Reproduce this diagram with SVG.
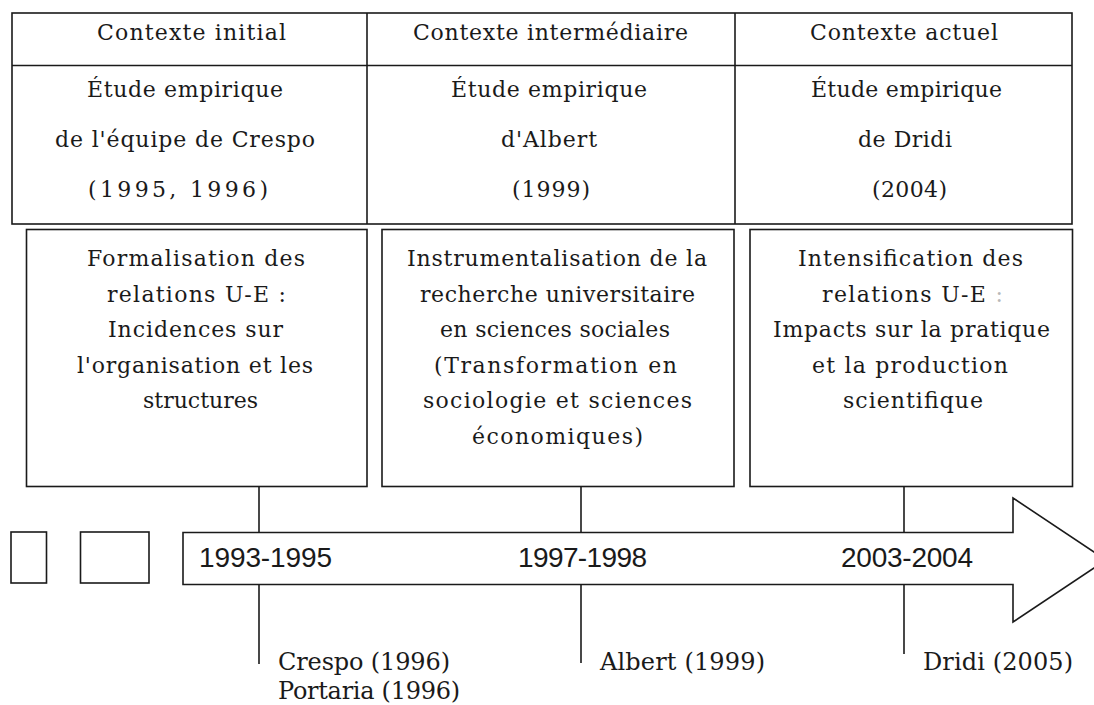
<svg xmlns="http://www.w3.org/2000/svg" width="1094" height="705" viewBox="0 0 1094 705">
<style>
.ln{fill:none;stroke:#1a1a1a;stroke-width:1.6}
.bx{fill:#fff;stroke:#1a1a1a;stroke-width:1.6}
.sf{font-family:"DejaVu Serif","Liberation Serif",serif;font-size:22px;fill:#1a1a1a}
.sb{font-family:"DejaVu Serif","Liberation Serif",serif;font-size:24px;fill:#1a1a1a}
.ss{font-family:"Liberation Sans",Arial,sans-serif;font-size:28px;fill:#1a1a1a}
</style>
<rect width="1094" height="705" fill="#fff"/>
<g id="table">
<rect class="bx" x="12" y="13" width="1060" height="211"/>
<line class="ln" x1="12" y1="65.5" x2="1072" y2="65.5"/>
<line class="ln" x1="367" y1="13" x2="367" y2="224"/>
<line class="ln" x1="735" y1="13" x2="735" y2="224"/>
</g>
<g id="col1-head">
<text class="sf" x="97" y="40" textLength="189" lengthAdjust="spacing">Contexte initial</text>
<text class="sf" x="87" y="97" textLength="196" lengthAdjust="spacing">Étude empirique</text>
<text class="sf" x="55" y="147" textLength="260" lengthAdjust="spacing">de l'équipe de Crespo</text>
<text class="sf" x="88" y="197" textLength="180" lengthAdjust="spacing">(1995, 1996)</text>
</g>
<g id="col2-head">
<text class="sf" x="413" y="40" textLength="275" lengthAdjust="spacing">Contexte intermédiaire</text>
<text class="sf" x="451" y="97" textLength="196" lengthAdjust="spacing">Étude empirique</text>
<text class="sf" x="501" y="147" textLength="96" lengthAdjust="spacing">d'Albert</text>
<text class="sf" x="512" y="197" textLength="78" lengthAdjust="spacing">(1999)</text>
</g>
<g id="col3-head">
<text class="sf" x="810" y="40" textLength="188" lengthAdjust="spacing">Contexte actuel</text>
<text class="sf" x="811" y="97" textLength="191" lengthAdjust="spacing">Étude empirique</text>
<text class="sf" x="858" y="147" textLength="94" lengthAdjust="spacing">de Dridi</text>
<text class="sf" x="872" y="197" textLength="75" lengthAdjust="spacing">(2004)</text>
</g>
<g id="box1">
<rect class="bx" x="26.5" y="229.5" width="340.5" height="257"/>
<text class="sf" x="87" y="266" textLength="218" lengthAdjust="spacing">Formalisation des</text>
<text class="sf" x="107" y="301.5" textLength="179" lengthAdjust="spacing">relations U-E :</text>
<text class="sf" x="108" y="337" textLength="175" lengthAdjust="spacing">Incidences sur</text>
<text class="sf" x="77" y="372.5" textLength="236" lengthAdjust="spacing">l'organisation et les</text>
<text class="sf" x="143" y="408" textLength="115" lengthAdjust="spacing">structures</text>
</g>
<g id="box2">
<rect class="bx" x="382" y="229.5" width="352" height="257"/>
<text class="sf" x="407" y="266" textLength="300" lengthAdjust="spacing">Instrumentalisation de la</text>
<text class="sf" x="420" y="301.5" textLength="275" lengthAdjust="spacing">recherche universitaire</text>
<text class="sf" x="440" y="337" textLength="230" lengthAdjust="spacing">en sciences sociales</text>
<text class="sf" x="434" y="372.5" textLength="243" lengthAdjust="spacing">(Transformation en</text>
<text class="sf" x="423" y="408" textLength="269" lengthAdjust="spacing">sociologie et sciences</text>
<text class="sf" x="472" y="443.5" textLength="171" lengthAdjust="spacing">économiques)</text>
</g>
<g id="box3">
<rect class="bx" x="750" y="229.5" width="322.5" height="257"/>
<text class="sf" x="798" y="266" textLength="225" lengthAdjust="spacing">Intensification des</text>
<text class="sf" x="822" y="301.5" textLength="181" lengthAdjust="spacing">relations U-E <tspan fill="#b8b8b8">:</tspan></text>
<text class="sf" x="773" y="337" textLength="277" lengthAdjust="spacing">Impacts sur la pratique</text>
<text class="sf" x="812" y="372.5" textLength="196" lengthAdjust="spacing">et la production</text>
<text class="sf" x="843" y="408" textLength="140" lengthAdjust="spacing">scientifique</text>
</g>
<g id="squares">
<rect class="bx" x="11" y="532" width="35.5" height="51"/>
<rect class="bx" x="80.5" y="532" width="68.5" height="51"/>
</g>
<g id="timeline">
<polygon class="bx" points="183,532.5 1013,532.5 1013,498 1106,560 1013,622 1013,584.5 183,584.5"/>
<text class="ss" x="199" y="567" textLength="133" lengthAdjust="spacing">1993-1995</text>
<text class="ss" x="518" y="567" textLength="129" lengthAdjust="spacing">1997-1998</text>
<text class="ss" x="841" y="567" textLength="132" lengthAdjust="spacing">2003-2004</text>
</g>
<g id="connectors">
<line class="ln" x1="259" y1="486.5" x2="259" y2="532.5"/>
<line class="ln" x1="259" y1="584.5" x2="259" y2="664"/>
<line class="ln" x1="581" y1="486.5" x2="581" y2="532.5"/>
<line class="ln" x1="581" y1="584.5" x2="581" y2="663"/>
<line class="ln" x1="904" y1="486.5" x2="904" y2="532.5"/>
<line class="ln" x1="904" y1="584.5" x2="904" y2="654"/>
</g>
<g id="refs">
<text class="sb" x="278" y="670" textLength="172" lengthAdjust="spacing">Crespo (1996)</text>
<text class="sb" x="278" y="699" textLength="182" lengthAdjust="spacing">Portaria (1996)</text>
<text class="sb" x="600" y="670" textLength="165" lengthAdjust="spacing">Albert (1999)</text>
<text class="sb" x="923" y="670" textLength="150" lengthAdjust="spacing">Dridi (2005)</text>
</g>
</svg>
